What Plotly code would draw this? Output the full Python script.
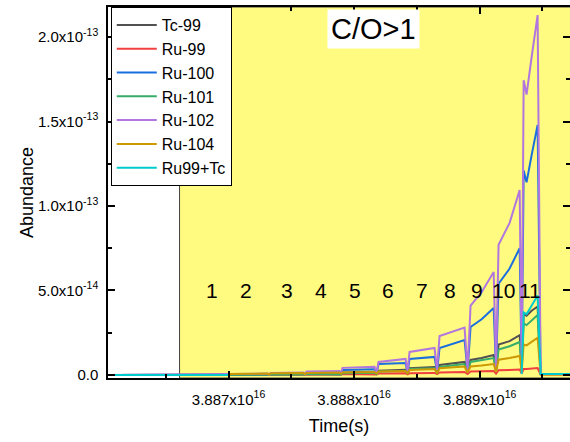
import plotly.graph_objects as go

# ---------------- data ----------------
SCALE = 1e-14  # abundance values below are in units of 1e-14

# shared time axis (s)
time_s = [
    3.88600e16,
    3.886729e16, 3.886992e16, 3.887004e16,               # seg 1, drop 1
    3.887016e16, 3.887311e16, 3.887323e16,               # seg 2, drop 2
    3.887335e16, 3.887598e16, 3.887610e16,               # seg 3, drop 3
    3.887622e16, 3.887884e16, 3.887896e16,               # seg 4, drop 4
    3.887908e16, 3.888163e16, 3.888179e16,               # seg 5, drop 5
    3.888195e16, 3.888410e16, 3.888426e16,               # seg 6, drop 6
    3.888442e16, 3.888641e16, 3.888661e16,               # seg 7, drop 7
    3.888681e16, 3.888880e16, 3.888904e16,               # seg 8, drop 8
    3.888928e16, 3.889016e16, 3.889112e16, 3.889131e16,  # seg 9, drop 9
    3.889151e16, 3.889239e16, 3.889319e16, 3.889335e16,  # seg 10, drop 10
    3.889351e16, 3.889374e16, 3.889414e16, 3.889462e16, 3.889486e16,  # seg 11, final drop
    3.889750e16,
]

tc99 = [0, 0.0, 0.0, 0.0, 0.01, 0.02, 0.01, 0.03, 0.04, 0.02, 0.05, 0.07, 0.03,
        0.14, 0.18, 0.06, 0.25, 0.30, 0.10, 0.40, 0.47, 0.15, 0.59, 0.77, 0.20,
        0.89, 1.00, 1.18, 0.25, 1.80, 2.00, 2.35, 0.30, 3.60, 3.50, 3.80, 4.05, 0.05, 0.05]
ru99 = [0, 0.0, 0.0, 0.0, 0.01, 0.02, 0.01, 0.02, 0.03, 0.01, 0.03, 0.04, 0.02,
        0.05, 0.06, 0.03, 0.08, 0.10, 0.04, 0.10, 0.12, 0.05, 0.15, 0.18, 0.06,
        0.20, 0.22, 0.24, 0.08, 0.28, 0.30, 0.32, 0.10, 0.35, 0.35, 0.38, 0.41, 0.03, 0.03]
ru100 = [0, 0.01, 0.02, 0.01, 0.03, 0.05, 0.02, 0.08, 0.10, 0.04, 0.14, 0.17, 0.06,
         0.30, 0.34, 0.10, 0.65, 0.71, 0.15, 0.95, 1.07, 0.20, 1.60, 2.07, 0.25,
         2.84, 3.30, 3.96, 0.30, 5.40, 6.30, 7.50, 0.35, 12.1, 11.4, 13.0, 14.8, 0.05, 0.05]
ru101 = [0, 0.0, 0.0, 0.0, 0.01, 0.02, 0.01, 0.03, 0.04, 0.02, 0.05, 0.06, 0.03,
         0.10, 0.13, 0.05, 0.20, 0.25, 0.08, 0.35, 0.40, 0.12, 0.47, 0.65, 0.18,
         0.77, 0.88, 1.00, 0.22, 1.50, 1.70, 1.95, 0.28, 3.05, 2.95, 3.25, 3.55, 0.05, 0.05]
ru102 = [0, 0.02, 0.03, 0.01, 0.05, 0.08, 0.03, 0.12, 0.14, 0.05, 0.20, 0.24, 0.08,
         0.42, 0.48, 0.12, 0.77, 0.95, 0.20, 1.36, 1.60, 0.30, 2.30, 2.80, 0.30,
         4.10, 4.90, 6.10, 0.35, 7.70, 9.00, 10.95, 0.40, 17.45, 16.6, 18.8, 21.3, 0.05, 0.05]
ru104 = [0, 0.0, 0.01, 0.0, 0.05, 0.08, 0.03, 0.10, 0.12, 0.05, 0.12, 0.15, 0.06,
         0.15, 0.18, 0.08, 0.20, 0.24, 0.10, 0.30, 0.35, 0.12, 0.40, 0.50, 0.15,
         0.50, 0.56, 0.65, 0.18, 0.90, 1.00, 1.12, 0.20, 1.80, 1.75, 1.95, 2.20, 0.03, 0.03]
ru99_tc = [0, 0.0, 0.0, 0.0, None, None, None, None, None, None, None, None, None,
           None, None, None, None, None, None, None, None, None, None, None, None,
           None, None, None, None, None, None, None, 0.05, 3.70, 3.60, 4.10, 4.70, 0.05, 0.05]

series_names = ["Tc-99", "Ru-99", "Ru-100", "Ru-101", "Ru-102", "Ru-104", "Ru99+Tc"]
series_values = [tc99, ru99, ru100, ru101, ru102, ru104, ru99_tc]
series_colors = ["#515151", "#F14040", "#1A6FDF", "#37AD6B", "#B177DE", "#CC9900", "#00CBCC"]

# thermal pulse labels
pulse_labels = ["1", "2", "3", "4", "5", "6", "7", "8", "9", "10", "11"]
pulse_label_times = [3.886865e16, 3.887143e16, 3.887462e16, 3.887733e16, 3.888004e16,
                     3.888267e16, 3.888538e16, 3.888761e16, 3.888976e16, 3.889191e16,
                     3.889398e16]
pulse_label_level = 5.0e-14

region_start = 3.88661e16  # start of the C/O>1 region

x_tickvals = [3.887e16, 3.888e16, 3.889e16]
x_ticktext = ["3.887x10<sup>16</sup>", "3.888x10<sup>16</sup>", "3.889x10<sup>16</sup>"]
x_minor = [3.8865e16, 3.8875e16, 3.8885e16, 3.8895e16]
y_tickvals = [0, 5e-14, 1e-13, 1.5e-13, 2e-13]
y_ticktext = ["0.0", "5.0x10<sup>-14</sup>", "1.0x10<sup>-13</sup>",
              "1.5x10<sup>-13</sup>", "2.0x10<sup>-13</sup>"]
y_minor = [2.5e-14, 7.5e-14, 1.25e-13, 1.75e-13]

# ---------------- figure ----------------
FONT = "Arial, Liberation Sans, sans-serif"
fig = go.Figure()

for name, vals, col in zip(series_names, series_values, series_colors):
    fig.add_trace(go.Scatter(
        x=time_s,
        y=[None if v is None else v * SCALE for v in vals],
        mode="lines", name=name,
        line=dict(color=col, width=2),
        connectgaps=False,
    ))

fig.add_shape(type="rect", xref="x", yref="paper",
              x0=region_start, x1=3.8900e16, y0=0, y1=1,
              fillcolor="#FFFA80", line=dict(color="#404040", width=1),
              layer="below")

for lab, t in zip(pulse_labels, pulse_label_times):
    fig.add_annotation(x=t, y=pulse_label_level, text=lab, showarrow=False,
                       font=dict(family=FONT, size=21, color="black"))

fig.add_annotation(xref="paper", yref="paper", x=0.575, y=0.995,
                   xanchor="center", yanchor="top",
                   text="C/O>1", showarrow=False, bgcolor="white",
                   borderpad=3, font=dict(family=FONT, size=29, color="black"))

axis_common = dict(showline=True, linecolor="black", linewidth=1.5, mirror="allticks",
                   ticks="inside", ticklen=7, tickwidth=1.5, tickcolor="black",
                   showgrid=False, zeroline=False,
                   tickfont=dict(family=FONT, size=15, color="black"))

fig.update_xaxes(range=[3.88604e16, 3.88972e16], tickmode="array",
                 tickvals=x_tickvals, ticktext=x_ticktext, ticklabelstandoff=7,
                 minor=dict(tickmode="array", tickvals=x_minor, ticks="inside",
                            ticklen=4, tickwidth=1.5, tickcolor="black"),
                 title=dict(text="Time(s)", font=dict(family=FONT, size=18, color="black"),
                            standoff=13),
                 **axis_common)
fig.update_yaxes(range=[-1.8e-15, 2.178e-13], tickmode="array",
                 tickvals=y_tickvals, ticktext=y_ticktext, ticklabelstandoff=5,
                 minor=dict(tickmode="array", tickvals=y_minor, ticks="inside",
                            ticklen=4, tickwidth=1.5, tickcolor="black"),
                 title=dict(text="Abundance", font=dict(family=FONT, size=18, color="black"),
                            standoff=0),
                 **axis_common)

fig.update_layout(
    width=570, height=442,
    margin=dict(l=108, r=0, t=7, b=64, autoexpand=False),
    paper_bgcolor="white", plot_bgcolor="white",
    showlegend=True,
    legend=dict(x=0.006, y=1, xanchor="left", yanchor="top",
                bgcolor="white", bordercolor="black", borderwidth=1,
                font=dict(family=FONT, size=16, color="black"),
                tracegroupgap=0, itemwidth=40),
    font=dict(family=FONT),
)

fig.write_html("out.html")
